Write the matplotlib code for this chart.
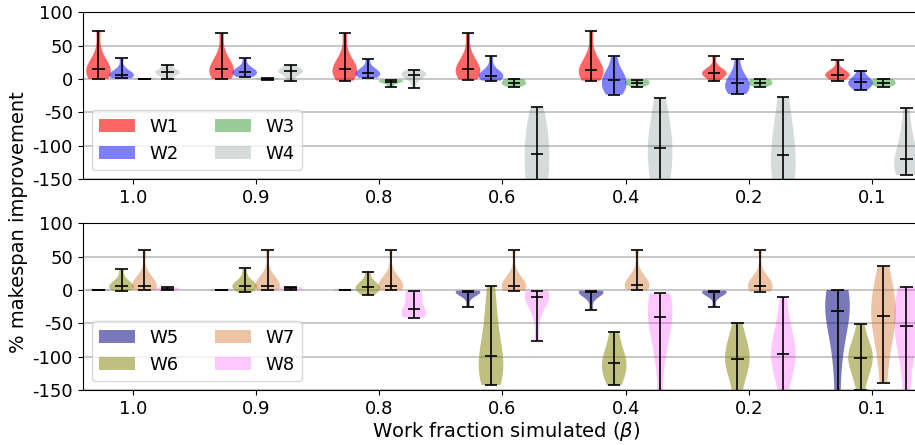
#!/usr/bin/env python

import numpy as np
from matplotlib import pyplot as plt
from matplotlib.patches import Patch

beta_labels = ["1.0", "0.9", "0.8", "0.6", "0.4", "0.2", "0.1"]

# % makespan improvement samples, one list per beta
w1 = [[0, 3, 6, 10, 15, 18, 22, 35, 72],
      [0, 4, 7, 11, 15, 19, 24, 36, 69],
      [-2.5, 3, 7, 11, 15, 18, 23, 35, 69],
      [-1, 3, 7, 11, 15, 18, 23, 35, 69],
      [-2.5, 2, 6, 10, 13.5, 17, 22, 35, 72],
      [-2.5, 4, 6, 8, 9, 10, 12, 16, 34],
      [-2.5, 2, 4, 5.5, 6.5, 8, 10, 14, 29]]
w2 = [[1, 2, 3.5, 5, 6.5, 8, 10, 15, 31],
      [3, 5, 7, 9, 11, 12, 14, 18, 31],
      [1.5, 3, 5, 7, 9, 11, 13, 17, 30],
      [-2.5, 0, 2, 4, 5, 7, 10, 16, 34],
      [-23.6, -18, -14, -10, -1.5, 2, 6, 14, 34],
      [-22.6, -19, -16, -12, -6.6, -3, 2, 10, 30],
      [-16.6, -13, -10, -7, -5, -3, 0, 4, 12.5]]
w3 = [[-0.5, -0.3, -0.2, -0.1, 0, 0.1, 0.2, 0.3, 0.5],
      [-1, -0.6, -0.3, -0.1, 0, 0.1, 0.3, 0.6, 1],
      [-12.6, -8, -5.5, -4.5, -4, -3, -2, -1.5, -1],
      [-12.6, -10, -8, -7, -6.6, -4, -2, -1, 0],
      [-12.6, -10, -8, -7, -6.6, -4, -2, -1, -1],
      [-12.6, -10, -8, -7, -6.6, -4, -2, -1, 0],
      [-12.6, -10, -8, -7, -6.6, -4, -2, -1, 0]]
w4 = [[0, 5, 7, 9, 10, 11, 13, 15, 21],
      [-3, 5, 8, 10, 11.5, 12.5, 14, 17, 21],
      [-14, -2, 3, 5, 6.5, 8, 9, 11, 14],
      [-185, -165, -150, -135, -113, -100, -85, -65, -41.7],
      [-180, -160, -140, -125, -103, -95, -80, -55, -29],
      [-185, -165, -148, -130, -114, -100, -82, -55, -26.7],
      [-144.6, -140, -135, -128, -119.5, -110, -95, -75, -44]]

w5 = [[-0.5, -0.3, -0.2, -0.1, 0, 0.1, 0.2, 0.3, 0.5],
      [-0.5, -0.3, -0.2, -0.1, 0, 0.1, 0.2, 0.3, 0.5],
      [-0.5, -0.3, -0.2, -0.1, 0, 0.1, 0.2, 0.3, 0.5],
      [-25, -12, -7, -5, -3.5, -2.5, -2, -1.5, -1],
      [-30, -14, -8, -5, -3.5, -2.5, -2, -1.5, -1],
      [-25, -12, -7, -5, -3.5, -2.5, -2, -1.5, -1],
      [-190, -120, -70, -45, -31, -20, -10, -4, 0]]
w6 = [[-1, 1, 3, 5, 6, 8, 11, 17, 31.5],
      [-3.5, 1, 3, 5, 6, 8, 11, 17, 32.5],
      [-7.5, -3, 0, 2, 4, 6, 9, 14, 27.5],
      [-142.5, -135, -125, -112, -98.5, -85, -60, -30, 6],
      [-142.5, -135, -125, -115, -109, -104, -95, -80, -62.5],
      [-175, -140, -120, -110, -103.5, -97, -88, -72, -50],
      [-149.5, -130, -115, -107, -101.5, -96, -88, -75, -51]]
w7 = [[0, 1.5, 3, 5, 6.5, 9, 13, 22, 60],
      [0, 1.5, 3, 5, 6.5, 9, 13, 22, 60],
      [0, 1.5, 3, 5, 6.5, 9, 13, 22, 60],
      [-1.5, 1, 3, 5, 6, 8, 12, 22, 60],
      [0, 2, 4, 6, 7.5, 10, 14, 24, 60],
      [-2.5, 1, 3, 5, 6.5, 9, 13, 22, 60],
      [-140, -95, -65, -50, -38.5, -25, -10, 5, 35.5]]
w8 = [[0, 0.5, 1, 1.5, 2, 2.5, 3, 3.5, 4],
      [0, 1, 1.5, 2, 2.5, 3, 3.5, 4, 5],
      [-41.5, -39, -37, -34, -29, -20, -8, -3, -1],
      [-76, -40, -22, -14, -10, -7, -4, -2, -1],
      [-190, -110, -70, -52, -40, -28, -18, -10, -5],
      [-175, -130, -112, -102, -96.5, -88, -75, -50, -11],
      [-190, -120, -85, -65, -54, -40, -25, -10, 4.5]]

top_names = ["W1", "W2", "W3", "W4"]
bottom_names = ["W5", "W6", "W7", "W8"]


def draw_panel(ax, series, names, colors, alphas):
    offsets = [-0.28, -0.093, 0.093, 0.28]
    base = np.arange(1, len(beta_labels) + 1)
    for k, data in enumerate(series):
        parts = ax.violinplot(data, positions=base + offsets[k], widths=0.2,
                              showmedians=True)
        for b in parts['bodies']:
            b.set_facecolor(colors[k])
            b.set_edgecolor('none')
            b.set_alpha(alphas[k])
        for key in ('cbars', 'cmins', 'cmaxes', 'cmedians'):
            parts[key].set_color('black')
            parts[key].set_linewidth(1.2)

    ax.set_xticks(base)
    ax.set_xticklabels(beta_labels)
    ax.set_xlim(0.592, 7.471)
    ax.set_ylim(-150, 100)
    ax.set_yticks([100, 50, 0, -50, -100, -150])
    ax.tick_params(labelsize=13)
    ax.yaxis.grid(True, color='#bdbdbd', linewidth=1.2)
    ax.set_axisbelow(True)
    handles = [Patch(facecolor=c, alpha=a, label=n)
               for c, a, n in zip(colors, alphas, names)]
    ax.legend(handles=handles, loc='lower left', ncol=2, fontsize=13)


def main():
    p = plt.rcParams
    p["font.size"] = 13
    p["axes.unicode_minus"] = False

    fig = plt.figure(figsize=(9.15, 4.45), dpi=100)
    ax1 = fig.add_axes([0.0904, 0.5978, 0.926, 0.3746])
    ax2 = fig.add_axes([0.0904, 0.1236, 0.926, 0.3746])

    draw_panel(ax1, [w1, w2, w3, w4], top_names,
               ['red', 'blue', 'green', 'darkslategray'], [0.6, 0.5, 0.4, 0.2])
    draw_panel(ax2, [w5, w6, w7, w8], bottom_names,
               ['navy', 'olive', 'chocolate', 'magenta'], [0.53, 0.5, 0.4, 0.22])

    ax2.set_xlabel(r"Work fraction simulated ($\beta$)", fontsize=14, labelpad=2)
    fig.text(0.02, 0.5, "% makespan improvement", rotation=90,
             ha='center', va='center', fontsize=14)

    plt.savefig("out.png", dpi=100)
    plt.close()


if __name__ == "__main__":
    main()
